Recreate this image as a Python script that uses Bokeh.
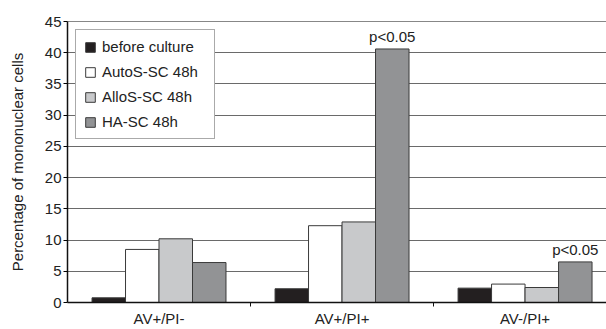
from bokeh.plotting import figure
from bokeh.models import ColumnDataSource, FixedTicker, Range1d, Span, Legend, LegendItem
from bokeh.embed import file_html
from bokeh.resources import INLINE
from bokeh.core.properties import value

categories = ["AV+/PI-", "AV+/PI+", "AV-/PI+"]
series_names = ["before culture", "AutoS-SC 48h", "AlloS-SC 48h", "HA-SC 48h"]
before_culture = [0.75, 2.2, 2.3]
autos_sc = [8.5, 12.3, 2.95]
allos_sc = [10.2, 12.9, 2.4]
ha_sc = [6.4, 40.6, 6.5]
ha_notes = ["", "p<0.05", "p<0.05"]
y_ticks = [0, 5, 10, 15, 20, 25, 30, 35, 40, 45]

colors = ["#231f20", "#ffffff", "#c8c9cb", "#929395"]
offsets = [-0.2745, -0.0915, 0.0915, 0.2745]
bar_w = 0.183
FONT = "Liberation Sans"

p = figure(width=606, height=329, output_backend="svg", toolbar_location=None,
           x_range=Range1d(0, 2.945), y_range=Range1d(0, 45),
           min_border_left=67, min_border_right=0, min_border_top=21, min_border_bottom=27)
p.outline_line_color = None
p.background_fill_color = "white"
p.border_fill_color = "white"

renderers = []
for k, vals in enumerate([before_culture, autos_sc, allos_sc, ha_sc]):
    xs = [i + 0.5 + offsets[k] for i in range(len(categories))]
    src = ColumnDataSource(dict(x=xs, top=vals))
    r = p.vbar(x="x", top="top", width=bar_w, bottom=0, source=src,
               fill_color=colors[k], line_color="#3a3a3a", line_width=1)
    renderers.append(r)

# significance labels above HA-SC bars
nx, ny, nt = [], [], []
for i, t in enumerate(ha_notes):
    if t:
        nx.append(i + 0.5 + offsets[3])
        ny.append(ha_sc[i])
        nt.append(t)
p.text(x=nx, y=ny, text=nt, text_align="center", text_baseline="bottom",
       y_offset=-4, text_font=value(FONT), text_font_size="15px", text_color="#222222")

# grid
p.xgrid.grid_line_color = None
p.ygrid.ticker = FixedTicker(ticks=y_ticks)
p.ygrid.grid_line_color = "#6a6a6a"
p.ygrid.grid_line_width = 1
p.add_layout(Span(location=45, dimension="width", line_color="#111111", line_width=1.2))

# y axis
p.yaxis.ticker = FixedTicker(ticks=y_ticks)
p.yaxis.axis_label = "Percentage of mononuclear cells"
p.yaxis.axis_label_text_font = FONT
p.yaxis.axis_label_text_font_size = "15px"
p.yaxis.axis_label_text_font_style = "normal"
p.yaxis.axis_label_text_color = "#222222"
p.yaxis.axis_label_standoff = 16
p.yaxis.major_label_text_font = FONT
p.yaxis.major_label_text_font_size = "15px"
p.yaxis.major_label_text_color = "#222222"
p.yaxis.major_tick_out = 4
p.yaxis.major_tick_in = 0
p.yaxis.minor_tick_line_color = None
p.yaxis.major_label_standoff = 2
p.yaxis.axis_line_color = "#111111"
p.yaxis.axis_line_width = 1.5

# x axis: labels at group centers, tick marks at boundaries
p.xaxis.ticker = FixedTicker(ticks=[i + 0.5 for i in range(len(categories))],
                             minor_ticks=[1, 2])
p.xaxis.major_label_overrides = {i + 0.5: c for i, c in enumerate(categories)}
p.xaxis.major_tick_line_color = None
p.xaxis.major_tick_out = 0
p.xaxis.minor_tick_out = 4
p.xaxis.minor_tick_in = 0
p.xaxis.minor_tick_line_color = "#111111"
p.xaxis.major_label_standoff = 3
p.xaxis.major_label_text_font = FONT
p.xaxis.major_label_text_font_size = "15px"
p.xaxis.major_label_text_color = "#222222"
p.xaxis.axis_line_color = "#111111"
p.xaxis.axis_line_width = 1.5

legend = Legend(items=[LegendItem(label=n, renderers=[r]) for n, r in zip(series_names, renderers)],
                location="top_left", margin=8, padding=8, spacing=8,
                glyph_width=12, glyph_height=12, label_standoff=6, label_width=104,
                label_text_font=FONT, label_text_font_size="15px", label_text_color="#222222",
                border_line_color="#555555", border_line_width=1, background_fill_alpha=1)
p.add_layout(legend, "center")

open("out.html", "w").write(file_html(p, INLINE))
